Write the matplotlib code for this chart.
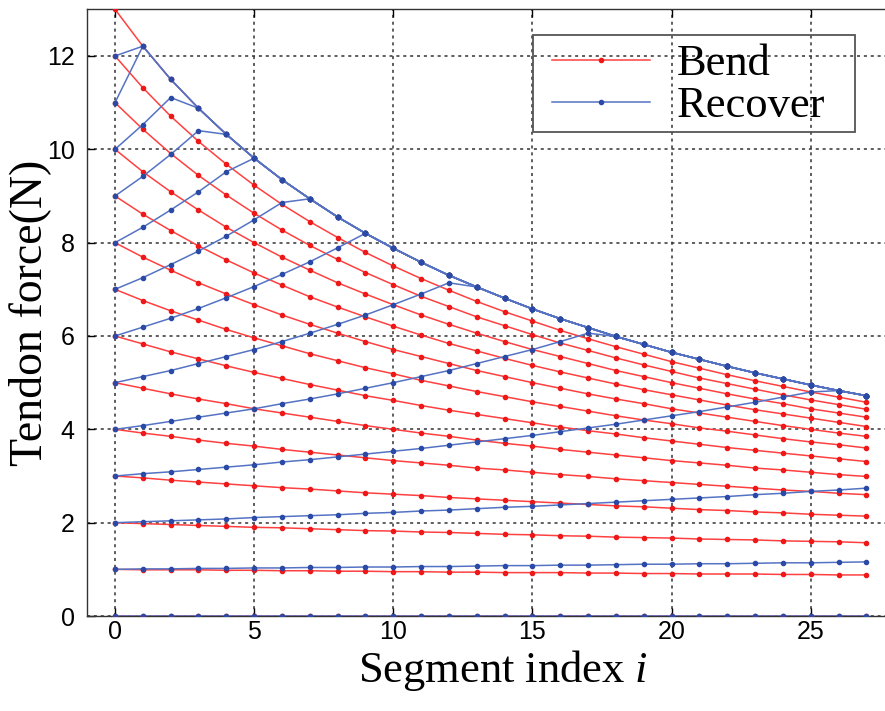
import matplotlib
matplotlib.use("Agg")
import matplotlib.pyplot as plt
from matplotlib.patches import Rectangle

# segment index along the tendon
segment_index = list(range(28))

# bending: force along the tendon for each input force 0..13 N
bend_13 = [13.00, 12.21, 11.50, 10.88, 10.32, 9.81, 9.35, 8.94, 8.55, 8.20, 7.88, 7.58, 7.30, 7.05,
           6.81, 6.58, 6.37, 6.18, 5.99, 5.82, 5.65, 5.50, 5.35, 5.21, 5.08, 4.95, 4.83, 4.72]
bend_12 = [12.00, 11.32, 10.71, 10.17, 9.68, 9.23, 8.82, 8.45, 8.11, 7.79, 7.50, 7.23, 6.98, 6.74,
           6.52, 6.32, 6.12, 5.94, 5.77, 5.61, 5.45, 5.31, 5.17, 5.04, 4.92, 4.80, 4.69, 4.58]
bend_11 = [11.00, 10.43, 9.91, 9.44, 9.02, 8.63, 8.27, 7.94, 7.64, 7.36, 7.10, 6.85, 6.63, 6.41,
           6.22, 6.03, 5.85, 5.69, 5.53, 5.38, 5.24, 5.10, 4.98, 4.86, 4.74, 4.63, 4.53, 4.43]
bend_10 = [10.00, 9.52, 9.09, 8.70, 8.33, 8.00, 7.69, 7.41, 7.14, 6.90, 6.67, 6.45, 6.25, 6.06,
           5.88, 5.71, 5.56, 5.41, 5.26, 5.13, 5.00, 4.88, 4.76, 4.65, 4.55, 4.44, 4.35, 4.26]
bend_9 = [9.00, 8.61, 8.26, 7.93, 7.63, 7.35, 7.09, 6.84, 6.62, 6.41, 6.21, 6.02, 5.84, 5.68,
          5.52, 5.37, 5.23, 5.10, 4.97, 4.85, 4.74, 4.63, 4.52, 4.42, 4.33, 4.24, 4.15, 4.06]
bend_8 = [8.00, 7.69, 7.41, 7.14, 6.90, 6.67, 6.45, 6.25, 6.06, 5.88, 5.71, 5.56, 5.41, 5.26,
          5.13, 5.00, 4.88, 4.76, 4.65, 4.55, 4.44, 4.35, 4.26, 4.17, 4.08, 4.00, 3.92, 3.85]
bend_7 = [7.00, 6.76, 6.54, 6.34, 6.14, 5.96, 5.79, 5.62, 5.47, 5.32, 5.19, 5.05, 4.93, 4.81,
          4.70, 4.59, 4.49, 4.39, 4.29, 4.20, 4.12, 4.03, 3.96, 3.88, 3.80, 3.73, 3.67, 3.60]
bend_6 = [6.00, 5.83, 5.66, 5.51, 5.36, 5.22, 5.09, 4.96, 4.84, 4.72, 4.62, 4.51, 4.41, 4.32,
          4.23, 4.14, 4.05, 3.97, 3.90, 3.82, 3.75, 3.68, 3.61, 3.55, 3.49, 3.43, 3.37, 3.31]
bend_5 = [5.00, 4.88, 4.76, 4.65, 4.55, 4.44, 4.35, 4.26, 4.17, 4.08, 4.00, 3.92, 3.85, 3.77,
          3.70, 3.64, 3.57, 3.51, 3.45, 3.39, 3.33, 3.28, 3.23, 3.17, 3.13, 3.08, 3.03, 2.99]
bend_4 = [4.00, 3.92, 3.85, 3.77, 3.70, 3.64, 3.57, 3.51, 3.45, 3.39, 3.33, 3.28, 3.23, 3.17,
          3.13, 3.08, 3.03, 2.99, 2.94, 2.90, 2.86, 2.82, 2.78, 2.74, 2.70, 2.67, 2.63, 2.60]
bend_3 = [3.00, 2.96, 2.91, 2.87, 2.83, 2.79, 2.75, 2.72, 2.68, 2.64, 2.61, 2.58, 2.54, 2.51,
          2.48, 2.45, 2.42, 2.39, 2.36, 2.34, 2.31, 2.28, 2.26, 2.23, 2.21, 2.18, 2.16, 2.14]
bend_2 = [2.00, 1.98, 1.96, 1.94, 1.92, 1.90, 1.89, 1.87, 1.85, 1.83, 1.82, 1.80, 1.79, 1.77,
          1.75, 1.74, 1.72, 1.71, 1.69, 1.68, 1.67, 1.65, 1.64, 1.63, 1.61, 1.60, 1.59, 1.57]
bend_1 = [1.00, 0.99, 0.99, 0.99, 0.98, 0.98, 0.97, 0.97, 0.96, 0.96, 0.95, 0.95, 0.94, 0.94,
          0.93, 0.93, 0.93, 0.92, 0.92, 0.91, 0.91, 0.90, 0.90, 0.90, 0.89, 0.89, 0.88, 0.88]
bend_0 = [0.00] * 28

# recovering: rising part of each curve; once it reaches the top bend
# curve (bend_13) it runs along it to the end
recover_12 = [12.00]
recover_11 = [11.00]
recover_10 = [10.00, 10.53, 11.11]
recover_9 = [9.00, 9.42, 9.89, 10.40]
recover_8 = [8.00, 8.33, 8.70, 9.09, 9.52]
recover_7 = [7.00, 7.25, 7.53, 7.82, 8.14, 8.49, 8.86]
recover_6 = [6.00, 6.19, 6.38, 6.59, 6.82, 7.06, 7.32, 7.59, 7.89]
recover_5 = [5.00, 5.13, 5.26, 5.41, 5.56, 5.71, 5.88, 6.06, 6.25, 6.45, 6.67, 6.90, 7.14]
recover_4 = [4.00, 4.08, 4.17, 4.26, 4.35, 4.44, 4.55, 4.65, 4.76, 4.88, 5.00, 5.13, 5.26, 5.41,
             5.56, 5.71, 5.88, 6.06]
recover_3 = [3.00, 3.05, 3.09, 3.14, 3.19, 3.24, 3.30, 3.35, 3.41, 3.47, 3.53, 3.59, 3.66, 3.73,
             3.80, 3.87, 3.95, 4.03, 4.11, 4.20, 4.29, 4.38, 4.48, 4.58, 4.69, 4.80]
recover_2 = [2.00, 2.02, 2.04, 2.06, 2.08, 2.11, 2.13, 2.15, 2.17, 2.20, 2.22, 2.25, 2.27, 2.30,
             2.33, 2.35, 2.38, 2.41, 2.44, 2.47, 2.50, 2.53, 2.56, 2.60, 2.63, 2.67, 2.70, 2.74]
recover_1 = [1.00, 1.01, 1.01, 1.02, 1.02, 1.03, 1.03, 1.04, 1.04, 1.05, 1.05, 1.06, 1.06, 1.07,
             1.08, 1.08, 1.09, 1.09, 1.10, 1.11, 1.11, 1.12, 1.12, 1.13, 1.14, 1.14, 1.15, 1.16]
recover_0 = [0.00] * 28

bend_curves = [bend_0, bend_1, bend_2, bend_3, bend_4, bend_5, bend_6, bend_7,
               bend_8, bend_9, bend_10, bend_11, bend_12, bend_13]
recover_curves = [recover_0, recover_1, recover_2, recover_3, recover_4, recover_5, recover_6,
                  recover_7, recover_8, recover_9, recover_10, recover_11, recover_12]

x_ticks = [0, 5, 10, 15, 20, 25]
y_ticks = [0, 2, 4, 6, 8, 10, 12]

color_bend_line = "#ff4040"
color_bend_dot = "#ee1818"
color_recover_line = "#5573c4"
color_recover_dot = "#2a4aa6"
serif = "Liberation Serif"


def plot_tendon_force():
    plt.rcParams["font.family"] = "Liberation Sans"
    plt.rcParams["mathtext.fontset"] = "custom"
    plt.rcParams["mathtext.it"] = "Liberation Serif:italic"
    plt.rcParams["mathtext.rm"] = "Liberation Serif"

    fig = plt.figure(figsize=(8.85, 7.11), dpi=100)
    # right edge of the box falls outside the picture, as in the original
    ax = fig.add_axes([0.0985, 0.1336, 0.9119, 0.8533])

    bend_handle = None
    for curve in bend_curves:
        lines = ax.plot(segment_index, curve, color=color_bend_line, lw=1.1,
                        marker=".", ms=6, mfc=color_bend_dot, mec=color_bend_dot, zorder=3)
        bend_handle = lines[0]

    recover_handle = None
    for rise in recover_curves:
        y = rise + bend_13[len(rise):]
        lines = ax.plot(segment_index, y, color=color_recover_line, lw=1.1,
                        marker=".", ms=6, mfc=color_recover_dot, mec=color_recover_dot, zorder=4)
        recover_handle = lines[0]

    ax.set_xlim(-1, 28)
    ax.set_ylim(0, 13)
    ax.set_xticks(x_ticks)
    ax.set_yticks(y_ticks)
    ax.tick_params(direction="in", length=6, width=1, top=True, right=True,
                   labelsize=18, colors="black")
    ax.tick_params(axis="x", pad=3)
    ax.tick_params(axis="y", pad=9)
    for spine in ax.spines.values():
        spine.set_color("#333333")
        spine.set_linewidth(1.0)

    ax.grid(True, color="#333333", linestyle=(0, (2, 2.5)), linewidth=1.1)
    ax.set_axisbelow(True)

    ax.set_xlabel("Segment index $i$", fontsize=32, family=serif)
    ax.xaxis.set_label_coords(0.515, -0.053)
    ax.set_ylabel("Tendon force(N)", fontsize=33, family=serif)
    ax.yaxis.set_label_coords(-0.045, 0.5)

    # legend box drawn separately so the entries can sit further from its edge
    fig.patches.append(Rectangle((533 / 885, 1 - 132 / 711), 322 / 885, 97 / 711,
                                 transform=fig.transFigure, fill=False,
                                 edgecolor="#555555", linewidth=1.3, zorder=5))
    ax.legend([bend_handle, recover_handle], ["Bend", "Recover"],
              loc="upper left", bbox_to_anchor=(552 / 885, 1 - 44 / 711),
              bbox_transform=fig.transFigure, borderaxespad=0, borderpad=0,
              prop={"family": serif, "size": 32}, handlelength=2.2,
              handletextpad=0.6, labelspacing=0.05, frameon=False)

    fig.savefig("out.png", dpi=100)


if __name__ == "__main__":
    plot_tendon_force()
